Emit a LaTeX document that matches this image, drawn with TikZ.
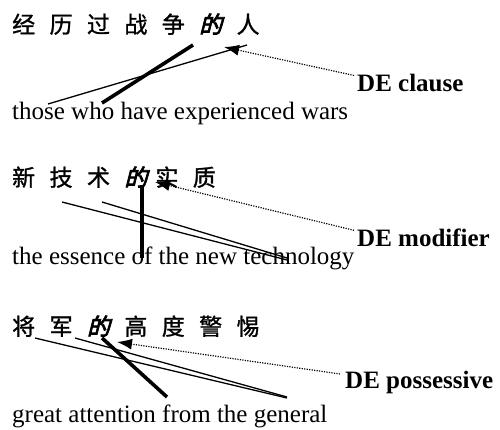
\documentclass[tikz,border=0pt]{standalone}
\usepackage{fontspec}
\setmainfont{Liberation Serif}
\newfontfamily\cjk{Noto Sans CJK SC}[FakeBold=1.2]
\newfontfamily\cjkbi{Noto Sans CJK SC}[FakeSlant=0.25,FakeBold=3.5]
\usetikzlibrary{arrows.meta}
\newcommand\cg{\hspace{14.4pt}}
\newcommand\DE{{\cjkbi 的}}
\begin{document}
\begin{tikzpicture}[x=1pt,y=-1pt,
  zh/.style={anchor=base west,inner sep=0pt,font=\cjk\fontsize{23}{23}\selectfont},
  en/.style={anchor=base west,inner sep=0pt,font=\fontsize{25}{25}\selectfont},
  lab/.style={anchor=base west,inner sep=0pt,font=\bfseries\fontsize{25}{25}\selectfont},
  thin/.style={line width=1.3pt},
  thick/.style={line width=3.6pt},
  pointer/.style={line width=1.2pt,dash pattern=on 1.2pt off 1.3pt,
    -{Latex[length=15pt,width=11pt,sep=0pt]}}]
\useasboundingbox (0,0) rectangle (500,430);
% block 1
\node[zh] (z1) at (12,33) {经\cg 历\cg 过\cg 战\cg 争\cg \DE\cg 人};
\node[en] (e1) at (12,120) {those who have experienced wars};
\node[lab] (l1) at (357,92) {DE clause};
\coordinate (a1) at (193,45); \coordinate (b1) at (102,103);
\coordinate (c1) at (48,104); \coordinate (d1) at (247,45);
\coordinate (t1) at (224,47);
\draw[thick] (a1) -- (b1);
\draw[thin] (c1) -- (d1);
\draw[pointer] (l1.west) ++(-3,-8) -- (t1);
% block 2
\node[zh] (z2) at (12,186) {新\cg 技\cg 术\cg \DE\hspace{8pt}实\cg 质};
\node[en] (e2) at (12,264) {the essence of the new technology};
\node[lab] (l2) at (357,246) {DE modifier};
\coordinate (a2) at (142,185); \coordinate (b2) at (142,258);
\coordinate (c2) at (62,202); \coordinate (d2) at (287,260);
\coordinate (f2) at (102,202); \coordinate (g2) at (287,258);
\coordinate (t2) at (155,182);
\draw[thick] (a2) -- (b2);
\draw[thin] (c2) -- (d2);
\draw[thin] (f2) -- (g2);
\draw[pointer] (l2.west) ++(-3,-7) -- (t2);
% block 3
\node[zh] (z3) at (12,335) {将\cg 军\cg \DE\cg 高\cg 度\cg 警\cg 惕};
\node[en] (e3) at (12,422) {great attention from the general};
\node[lab] (l3) at (345,388) {DE possessive};
\coordinate (a3) at (102,338); \coordinate (b3) at (167,397);
\coordinate (c3) at (35,338); \coordinate (d3) at (287,398);
\coordinate (f3) at (75,338); \coordinate (g3) at (287,397);
\coordinate (t3) at (117,342);
\draw[thick] (a3) -- (b3);
\draw[thin] (c3) -- (d3);
\draw[thin] (f3) -- (g3);
\draw[pointer] (l3.west) ++(-5,-8) -- (t3);
\end{tikzpicture}
\end{document}
